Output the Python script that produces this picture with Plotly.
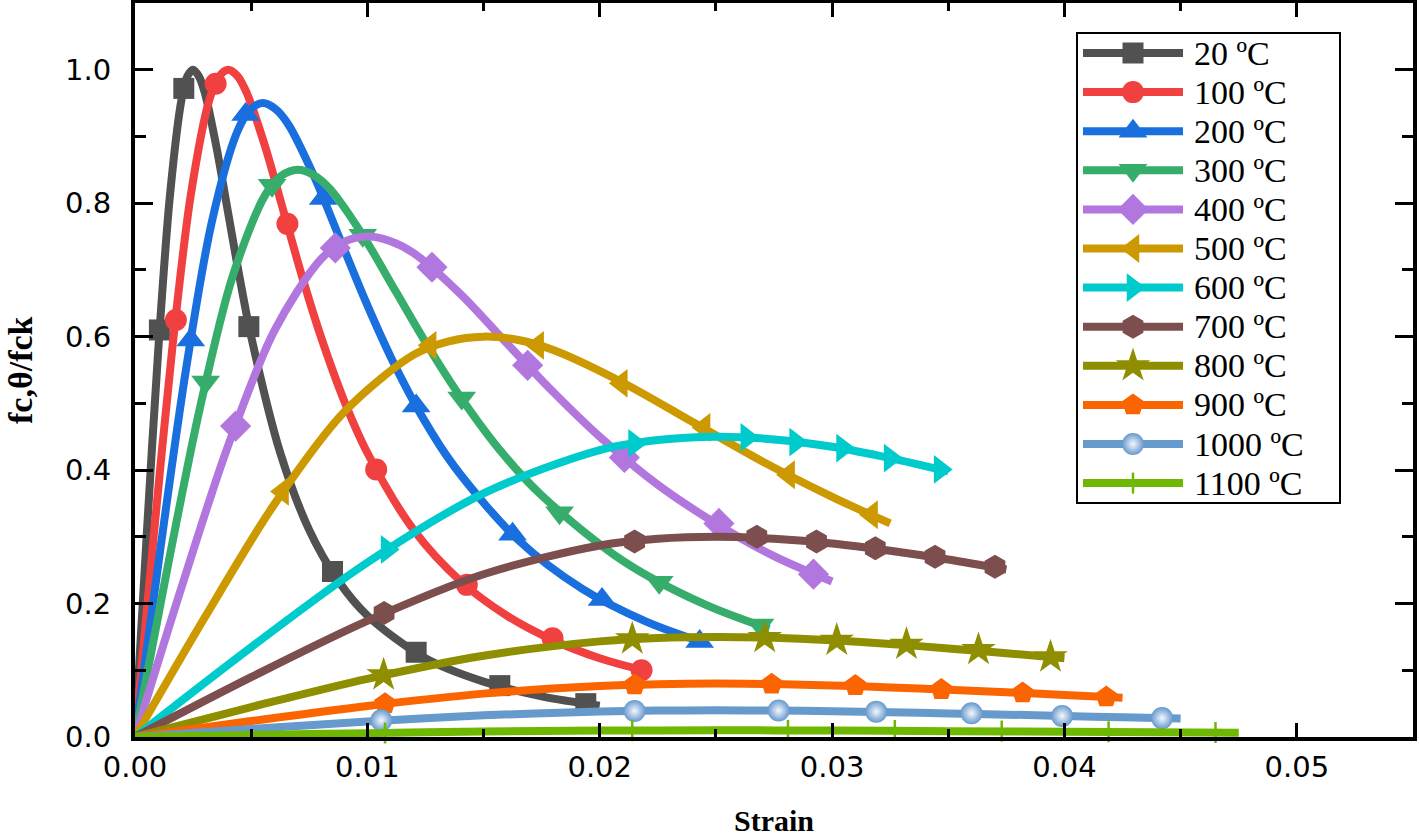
import plotly.graph_objects as go

# ---------------- data ----------------
labels = ['20 ºC', '100 ºC', '200 ºC', '300 ºC', '400 ºC', '500 ºC',
          '600 ºC', '700 ºC', '800 ºC', '900 ºC', '1000 ºC', '1100 ºC']

strain_20 = [0, 0.0005, 0.001, 0.0015, 0.002, 0.00225, 0.0025, 0.00275, 0.003, 0.0035, 0.004, 0.0045,
             0.005, 0.00625, 0.0075, 0.00875, 0.01, 0.0125, 0.015, 0.0175, 0.02]
ratio_20 = [0, 0.30, 0.58, 0.81, 0.955, 0.99, 1.0, 0.99, 0.966, 0.885, 0.787, 0.689,
            0.60, 0.426, 0.31, 0.234, 0.182, 0.118, 0.083, 0.061, 0.047]
mk_strain_20 = [0.00105, 0.0021, 0.0049, 0.0085, 0.0121, 0.0157, 0.0194]
mk_ratio_20 = [0.61, 0.972, 0.615, 0.248, 0.127, 0.077, 0.050]

strain_100 = [0, 0.0008, 0.0016, 0.0024, 0.0032, 0.0036, 0.004, 0.0044, 0.0048, 0.0056, 0.0064, 0.0072,
              0.008, 0.009, 0.010, 0.012, 0.014, 0.016, 0.018, 0.020, 0.0222]
ratio_100 = [0, 0.299, 0.581, 0.812, 0.955, 0.989, 1.0, 0.991, 0.966, 0.885, 0.787, 0.689,
             0.60, 0.504, 0.426, 0.31, 0.234, 0.182, 0.145, 0.118, 0.097]
mk_strain_100 = [0.00176, 0.00347, 0.00656, 0.01038, 0.01428, 0.01797, 0.0218]
mk_ratio_100 = [0.625, 0.979, 0.769, 0.401, 0.228, 0.148, 0.100]

strain_200 = [0, 0.0011, 0.0022, 0.0033, 0.0044, 0.00495, 0.0055, 0.00605, 0.0066, 0.0077, 0.0088, 0.0099,
              0.011, 0.012375, 0.01375, 0.0165, 0.01925, 0.022, 0.0246]
ratio_200 = [0, 0.284, 0.552, 0.771, 0.907, 0.940, 0.95, 0.941, 0.918, 0.841, 0.748, 0.655,
             0.570, 0.479, 0.405, 0.295, 0.222, 0.173, 0.140]
mk_strain_200 = [0.0024, 0.00476, 0.0081, 0.0121, 0.01625, 0.0201, 0.0243]
mk_ratio_200 = [0.595, 0.933, 0.807, 0.496, 0.304, 0.206, 0.143]

strain_300 = [0, 0.0014, 0.0028, 0.0042, 0.0056, 0.0063, 0.007, 0.0077, 0.0084, 0.0098, 0.0112, 0.0126,
              0.014, 0.01575, 0.0175, 0.021, 0.0245, 0.0273]
ratio_300 = [0, 0.254, 0.494, 0.690, 0.812, 0.841, 0.85, 0.842, 0.821, 0.752, 0.669, 0.586,
             0.51, 0.428, 0.362, 0.264, 0.199, 0.162]
mk_strain_300 = [0.00304, 0.0059, 0.0098, 0.01406, 0.01827, 0.02256, 0.0269]
mk_ratio_300 = [0.532, 0.827, 0.752, 0.508, 0.336, 0.232, 0.168]

strain_400 = [0, 0.002, 0.004, 0.006, 0.008, 0.009, 0.01, 0.011, 0.012, 0.014, 0.016, 0.018,
              0.02, 0.0225, 0.025, 0.0275, 0.03]
ratio_400 = [0, 0.224, 0.436, 0.609, 0.716, 0.742, 0.75, 0.743, 0.725, 0.664, 0.590, 0.517,
             0.45, 0.378, 0.320, 0.271, 0.233]
mk_strain_400 = [0.00433, 0.00862, 0.01278, 0.0169, 0.02106, 0.02513, 0.0292]
mk_ratio_400 = [0.466, 0.733, 0.704, 0.557, 0.419, 0.320, 0.244]

strain_500 = [0, 0.003, 0.006, 0.009, 0.012, 0.0135, 0.015, 0.0165, 0.018, 0.021, 0.024, 0.027, 0.03, 0.0325]
ratio_500 = [0, 0.179, 0.349, 0.487, 0.573, 0.593, 0.6, 0.595, 0.580, 0.531, 0.472, 0.413, 0.36, 0.320]
mk_strain_500 = [0.00635, 0.0127, 0.01733, 0.02093, 0.02449, 0.02813, 0.0317]
mk_ratio_500 = [0.368, 0.587, 0.587, 0.530, 0.464, 0.393, 0.333]

strain_600 = [0, 0.005, 0.01, 0.015, 0.02, 0.0225, 0.025, 0.0275, 0.03, 0.0325, 0.035]
ratio_600 = [0, 0.1346, 0.2615, 0.365, 0.430, 0.445, 0.45, 0.446, 0.435, 0.418, 0.398]
mk_strain_600 = [0.01085, 0.0215, 0.02633, 0.02843, 0.03045, 0.0325, 0.03465]
mk_ratio_600 = [0.281, 0.440, 0.449, 0.442, 0.433, 0.418, 0.401]

strain_700 = [0, 0.005, 0.01, 0.015, 0.02, 0.0225, 0.025, 0.0275, 0.03, 0.0325, 0.035, 0.0375]
ratio_700 = [0, 0.0897, 0.174, 0.244, 0.287, 0.297, 0.30, 0.297, 0.290, 0.279, 0.266, 0.251]
mk_strain_700 = [0.01072, 0.0215, 0.02676, 0.02933, 0.03186, 0.03443, 0.03701]
mk_ratio_700 = [0.186, 0.293, 0.300, 0.293, 0.283, 0.270, 0.255]

strain_800 = [0, 0.005, 0.01, 0.015, 0.02, 0.0225, 0.025, 0.0275, 0.03, 0.0325, 0.035, 0.0375, 0.04]
ratio_800 = [0, 0.0449, 0.0872, 0.1218, 0.1433, 0.1484, 0.15, 0.1487, 0.1449, 0.1394, 0.1328, 0.1256, 0.118]
mk_strain_800 = [0.0107, 0.0214, 0.0271, 0.0302, 0.0332, 0.0363, 0.0394]
mk_ratio_800 = [0.093, 0.147, 0.149, 0.145, 0.139, 0.131, 0.120]

strain_900 = [0, 0.005, 0.01, 0.015, 0.02, 0.0225, 0.025, 0.0275, 0.03, 0.0325, 0.035, 0.0375, 0.04, 0.0425]
ratio_900 = [0, 0.0239, 0.0465, 0.065, 0.0764, 0.0791, 0.08, 0.0793, 0.0773, 0.0743, 0.0708, 0.067, 0.063, 0.059]
mk_strain_900 = [0.01076, 0.0215, 0.0274, 0.0310, 0.0347, 0.0382, 0.0418]
mk_ratio_900 = [0.050, 0.078, 0.079, 0.077, 0.071, 0.066, 0.060]

strain_1000 = [0, 0.005, 0.01, 0.015, 0.02, 0.0225, 0.025, 0.0275, 0.03, 0.0325, 0.035, 0.0375, 0.04, 0.0425, 0.045]
ratio_1000 = [0, 0.012, 0.0232, 0.0325, 0.0382, 0.0396, 0.04, 0.0396, 0.0386, 0.0372, 0.0354, 0.0335, 0.0315,
              0.0295, 0.0276]
mk_strain_1000 = [0.0106, 0.0215, 0.0277, 0.0319, 0.0360, 0.0399, 0.0442]
mk_ratio_1000 = [0.025, 0.039, 0.0397, 0.038, 0.0355, 0.0316, 0.0283]

strain_1100 = [0, 0.005, 0.01, 0.015, 0.02, 0.025, 0.03, 0.035, 0.04, 0.0475]
ratio_1100 = [0, 0.003, 0.0058, 0.0081, 0.0096, 0.01, 0.0097, 0.0088, 0.0079, 0.0064]
mk_strain_1100 = [0.01076, 0.0214, 0.0281, 0.0327, 0.0373, 0.0419, 0.0465]
mk_ratio_1100 = [0.006, 0.0095, 0.0099, 0.0097, 0.0089, 0.0079, 0.0067]

x_ticks = [0.00, 0.01, 0.02, 0.03, 0.04, 0.05]
y_ticks = [0.0, 0.2, 0.4, 0.6, 0.8, 1.0]

# ---------------- styles ----------------
colors = ['#515151', '#F14040', '#1A6FDF', '#37AD6B', '#B177DE', '#CC9900',
          '#00CBCC', '#7D4E4E', '#8E8E00', '#FB6501', '#6699CC', '#6FB802']
symbols = ['square', 'circle', 'triangle-up', 'triangle-down', 'diamond', 'triangle-left',
           'triangle-right', 'hexagon', 'star', 'pentagon', 'circle', 'line-ns']
msizes = [21, 22, 25, 25, 24, 25, 25, 24, 26, 23, 22, 15]

lines = [(strain_20, ratio_20), (strain_100, ratio_100), (strain_200, ratio_200), (strain_300, ratio_300),
         (strain_400, ratio_400), (strain_500, ratio_500), (strain_600, ratio_600), (strain_700, ratio_700),
         (strain_800, ratio_800), (strain_900, ratio_900), (strain_1000, ratio_1000), (strain_1100, ratio_1100)]
marks = [(mk_strain_20, mk_ratio_20), (mk_strain_100, mk_ratio_100), (mk_strain_200, mk_ratio_200),
         (mk_strain_300, mk_ratio_300), (mk_strain_400, mk_ratio_400), (mk_strain_500, mk_ratio_500),
         (mk_strain_600, mk_ratio_600), (mk_strain_700, mk_ratio_700), (mk_strain_800, mk_ratio_800),
         (mk_strain_900, mk_ratio_900), (mk_strain_1000, mk_ratio_1000), (mk_strain_1100, mk_ratio_1100)]

LW = 8


def marker_style(i):
    m = dict(symbol=symbols[i], size=msizes[i], color=colors[i], line=dict(width=0))
    if symbols[i] == 'line-ns':
        m['line'] = dict(width=2.5, color=colors[i])
    if i == 10:
        m['gradient'] = dict(type='radial', color='#F4F8FF')
    return m


fig = go.Figure()
for i in range(len(labels)):
    xs, ys = lines[i]
    fig.add_trace(go.Scatter(x=xs, y=ys, mode='lines', name=labels[i],
                             line=dict(color=colors[i], width=LW, shape='spline', smoothing=0.9),
                             showlegend=False, hoverinfo='skip'))
    mx, my = marks[i]
    fig.add_trace(go.Scatter(x=mx, y=my, mode='markers', name=labels[i],
                             marker=marker_style(i), showlegend=False, cliponaxis=False))

# ---------------- custom legend (pixel-like overlay axes) ----------------
LEG_X0, LEG_X1, LEG_Y0, LEG_Y1 = 1077, 1340, 33, 503
ROW0, ROW_STEP = 53, 39.1
SEG_X0, SEG_X1, TXT_X = 1083, 1183, 1192
for i in range(len(labels)):
    yy = ROW0 + ROW_STEP * i
    fig.add_trace(go.Scatter(x=[SEG_X0, SEG_X1], y=[yy, yy], mode='lines', xaxis='x2', yaxis='y2',
                             line=dict(color=colors[i], width=LW), showlegend=False, hoverinfo='skip'))
    fig.add_trace(go.Scatter(x=[(SEG_X0 + SEG_X1) / 2], y=[yy], mode='markers', xaxis='x2', yaxis='y2',
                             marker=marker_style(i), showlegend=False, hoverinfo='skip'))
    fig.add_annotation(x=TXT_X, y=yy, xref='x2', yref='y2', text=labels[i], showarrow=False,
                       xanchor='left', yanchor='middle',
                       font=dict(family='Liberation Serif, Times New Roman, serif', size=34, color='black'))
fig.add_shape(type='rect', xref='x2', yref='y2', x0=LEG_X0, x1=LEG_X1, y0=LEG_Y0, y1=LEG_Y1,
              line=dict(color='black', width=2), fillcolor='rgba(0,0,0,0)', layer='below')

# axis titles as annotations (paper coordinates)
fig.add_annotation(x=0.5, y=-0.114, xref='paper', yref='paper', text='<b>Strain</b>', showarrow=False,
                   xanchor='center', yanchor='middle',
                   font=dict(family='Liberation Serif, Times New Roman, serif', size=30, color='black'))
fig.add_annotation(x=-0.09, y=0.5, xref='paper', yref='paper', text='<b>fc,θ/fck</b>', showarrow=False,
                   xanchor='center', yanchor='middle', textangle=-90,
                   font=dict(family='Liberation Serif, Times New Roman, serif', size=34, color='black'))

tickfont = dict(family='DejaVu Sans, Arial, sans-serif', size=29, color='black')

fig.update_layout(
    width=1419, height=837,
    margin=dict(l=135, r=6, t=3, b=100, autoexpand=False),
    plot_bgcolor='white', paper_bgcolor='white',
    showlegend=False,
    xaxis=dict(range=[0, 0.055], tickvals=x_ticks, tickformat='.2f', ticks='inside', ticklen=14,
               tickwidth=3, tickcolor='black', showline=True, linewidth=4, linecolor='black',
               mirror='allticks', showgrid=False, zeroline=False, tickfont=tickfont,
               ticklabelstandoff=1, automargin=False,
               minor=dict(ticks='inside', ticklen=8, tickwidth=3, tickcolor='black', dtick=0.005, tick0=0)),
    yaxis=dict(range=[0, 1.1], tickvals=y_ticks, tickformat='.1f', ticks='inside', ticklen=18,
               tickwidth=3, tickcolor='black', showline=True, linewidth=4, linecolor='black',
               mirror='allticks', showgrid=False, zeroline=False, tickfont=tickfont,
               ticklabelstandoff=14, automargin=False,
               minor=dict(ticks='inside', ticklen=11, tickwidth=3, tickcolor='black', dtick=0.1, tick0=0)),
    xaxis2=dict(overlaying='x', range=[135, 1413], visible=False, anchor='y2', automargin=False),
    yaxis2=dict(overlaying='y', range=[737, 3], visible=False, anchor='x2', automargin=False),
)

fig.write_html('out.html', config={'displayModeBar': False},
               post_script="document.body.style.margin='0';document.body.style.padding='0';"
                           "document.body.style.overflow='hidden';")
